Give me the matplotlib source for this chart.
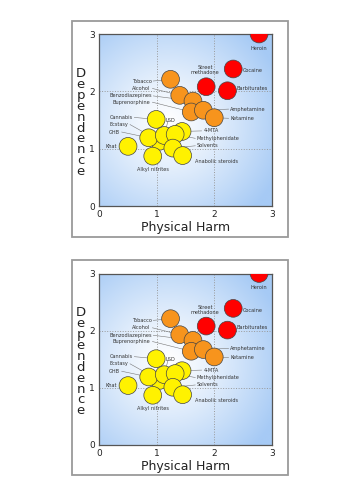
import numpy as np
import matplotlib
matplotlib.use("Agg")
import matplotlib.pyplot as plt
from matplotlib.patches import Circle, Rectangle
from matplotlib.colors import to_rgb

# ---------------------------------------------
# data: physical harm (x), dependence (y)
# ---------------------------------------------
drugs = ["Heroin", "Cocaine", "Barbiturates", "Street\nmethadone",
         "Tobacco", "Alcohol", "Benzodiazepines", "Buprenorphine",
         "Amphetamine", "Ketamine",
         "Cannabis", "Ecstasy", "GHB", "Khat", "LSD", "4-MTA",
         "Methylphenidate", "Solvents", "Anabolic steroids", "Alkyl nitrites"]
harm = [2.78, 2.33, 2.23, 1.86,
        1.24, 1.40, 1.63, 1.60, 1.81, 2.00,
        0.99, 1.05, 0.86, 0.50, 1.13, 1.44, 1.32, 1.28, 1.45, 0.93]
dependence = [3.00, 2.39, 2.01, 2.08,
              2.21, 1.93, 1.83, 1.64, 1.67, 1.54,
              1.51, 1.13, 1.19, 1.04, 1.23, 1.30, 1.25, 1.01, 0.88, 0.87]
groups = ["red"] * 4 + ["orange"] * 6 + ["yellow"] * 10

# label anchor (data coords), alignment and whether a leader line is drawn
label_x = [2.77, 2.50, 2.39, 1.84,
           0.91, 0.895, 0.91, 0.895, 2.28, 2.28,
           0.58, 0.505, 0.36, 0.30, 1.23, 1.81, 1.70, 1.70, 1.67, 0.93]
label_y = [2.75, 2.36, 2.05, 2.37,
           2.18, 2.05, 1.92, 1.81, 1.69, 1.53,
           1.545, 1.42, 1.29, 1.045, 1.50, 1.31, 1.18, 1.05, 0.77, 0.64]
label_ha = ["center", "left", "left", "center",
            "right", "right", "right", "right", "left", "left",
            "right", "right", "right", "right", "center", "left",
            "left", "left", "left", "center"]
leader = [False, False, False, False,
          True, True, True, True, True, True,
          True, True, True, False, True, True, True, True, False, False]

colours = {"red": "#ff0000", "orange": "#f7941d", "yellow": "#fff200"}
txt_col = "#333333"


def draw_panel(fig, ax_rect, frame_rect):
    # grey frame round the whole panel
    fig.patches.append(Rectangle(frame_rect[:2], frame_rect[2], frame_rect[3],
                                 transform=fig.transFigure, fill=False,
                                 ec="#9a9a9a", lw=1.3, zorder=0))
    ax = fig.add_axes(ax_rect)

    # radial gradient background
    gx, gy = np.meshgrid(np.linspace(0, 3, 200), np.linspace(0, 3, 200))
    d = np.hypot(gx - 1.2, gy - 1.45)
    t = np.clip(d / 2.1, 0, 1)[..., None] ** 1.2
    edge = np.array(to_rgb("#a6caf5"))
    img = (1 - t) * np.ones(3) + t * edge
    ax.imshow(img, extent=(0, 3, 0, 3), origin="lower", aspect="auto", zorder=0)

    ax.set_xlim(0, 3)
    ax.set_ylim(0, 3)
    ax.set_xticks([0, 1, 2, 3])
    ax.set_yticks([0, 1, 2, 3])
    ax.tick_params(length=0, labelsize=6.5, colors="#222222", pad=3)
    ax.grid(True, ls=":", color="#999999", lw=0.7, zorder=1)
    for s in ax.spines.values():
        s.set_color("#555555")
        s.set_linewidth(0.9)

    for i, name in enumerate(drugs):
        if leader[i]:
            ax.plot([harm[i], label_x[i] + (0.03 if label_ha[i] == "right" else -0.03)],
                    [dependence[i], label_y[i]],
                    color="#777777", lw=0.4, zorder=2)
        ax.add_patch(Circle((harm[i], dependence[i]), 0.155,
                            fc=colours[groups[i]], ec="#444444", lw=0.5, zorder=3))
        ax.text(label_x[i], label_y[i], name, ha=label_ha[i], va="center",
                fontsize=3.6, color=txt_col, zorder=4, linespacing=1.0)

    ax.set_xlabel("Physical Harm", fontsize=9, color="#222222", labelpad=1)
    ax.text(-0.108, 0.485, "\n".join("Dependence"), transform=ax.transAxes,
            ha="center", va="center", fontsize=9.5, color="#222222",
            linespacing=0.79)
    return ax


fig = plt.figure(figsize=(3.53, 5.0), dpi=100)
fig.patch.set_facecolor("white")

draw_panel(fig, [0.2813, 0.588, 0.4884, 0.344], [0.204, 0.526, 0.612, 0.432])
draw_panel(fig, [0.2813, 0.110, 0.4884, 0.343], [0.204, 0.050, 0.612, 0.430])

fig.savefig("out.png", dpi=100)
